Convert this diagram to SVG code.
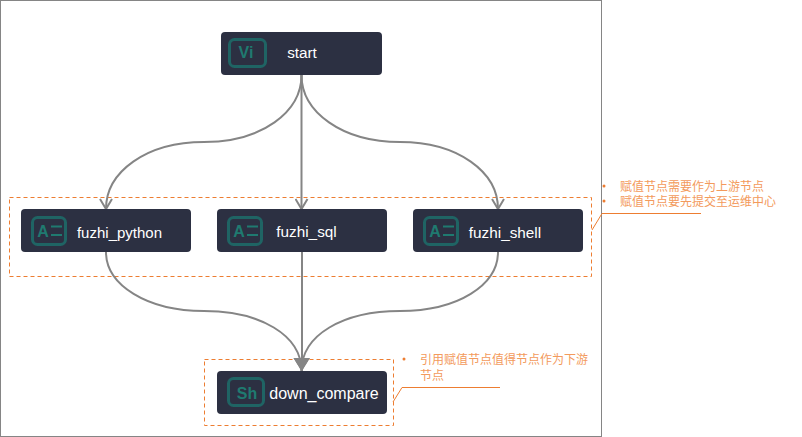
<svg xmlns="http://www.w3.org/2000/svg" width="802" height="437" viewBox="0 0 802 437">
<style>
.node{fill:#2c3042}
.badge{fill:none;stroke:#1f6464;stroke-width:3}
.ico{font:bold 16px "Liberation Sans",Arial,sans-serif;fill:#1f7a70;text-anchor:middle}
.lbl{font:15.300px "Liberation Sans",Arial,sans-serif;fill:#fff;text-anchor:middle}
.edge{fill:none;stroke:#858585;stroke-width:2}
.dash{fill:none;stroke:#ed7d31;stroke-width:1;stroke-dasharray:4 3}
.lead{fill:none;stroke:#ed7d31;stroke-width:1}
.note{font:12px "Noto Sans CJK SC","Liberation Sans",sans-serif;fill:#f39a5c}
.dot{fill:#ed7d31}
</style>
<defs>
<marker id="open" markerUnits="userSpaceOnUse" markerWidth="14" markerHeight="14" refX="11" refY="7" orient="auto">
<path d="M1,1 L11,7 L1,13" fill="none" stroke="#858585" stroke-width="2"/>
</marker>
<marker id="solid" markerUnits="userSpaceOnUse" markerWidth="16" markerHeight="18" refX="13" refY="8" orient="auto">
<path d="M0,0 L13,8 L0,16 Z" fill="#858585"/>
</marker>
</defs>
<rect x="0.5" y="0.5" width="601" height="436" fill="#fff" stroke="#858585"/>
<g id="frames">
<rect class="dash" x="9.500" y="197.500" width="582" height="79"/>
<rect class="dash" x="204.500" y="359.500" width="189" height="66"/>
<path class="lead" d="M592,230 L602,213.500 H701"/>
<path class="lead" d="M393,402 L402,387.500 H500"/>
</g>
<g id="connectors">
<path class="edge" marker-end="url(#open)" d="M301.500,75 C301.500,112 262,142 204,142 C146,142 106,172 106,209"/>
<path class="edge" marker-end="url(#open)" d="M301.500,75 V209"/>
<path class="edge" marker-end="url(#open)" d="M301.500,75 C301.500,112 342,142 400,142 C458,142 498,172 498,209"/>
<path class="edge" marker-end="url(#solid)" d="M106,252 C106,285 147,311 204,311 C260,311 301.500,335 301.500,371"/>
<path class="edge" marker-end="url(#solid)" d="M302,252 V371"/>
<path class="edge" marker-end="url(#solid)" d="M498,252 C498,285 458,311 400,311 C343,311 301.500,335 301.500,371"/>
</g>
<g id="node-start">
<rect class="node" x="221" y="32" width="161" height="43" rx="4"/>
<rect class="badge" x="229.500" y="39.500" width="36" height="27" rx="5"/>
<text class="ico" x="246" y="57.500">Vi</text>
<text class="lbl" x="302" y="58">start</text>
</g>
<g id="node-fuzhi_python">
<rect class="node" x="21" y="209" width="170" height="43" rx="4"/>
<rect class="badge" x="32.500" y="217.500" width="33" height="27" rx="5"/>
<text class="ico" x="43" y="237">A</text>
<path d="M51,226.500 H62 M51,235 H62" stroke="#1f7a70" stroke-width="2" fill="none"/>
<text class="lbl" x="119.500" y="238" style="font-size:15px">fuzhi_python</text>
</g>
<g id="node-fuzhi_sql">
<rect class="node" x="217" y="209" width="170" height="43" rx="4"/>
<rect class="badge" x="228.500" y="217.500" width="33" height="27" rx="5"/>
<text class="ico" x="239" y="237">A</text>
<path d="M247,226.500 H258 M247,235 H258" stroke="#1f7a70" stroke-width="2" fill="none"/>
<text class="lbl" x="306.500" y="237">fuzhi_sql</text>
</g>
<g id="node-fuzhi_shell">
<rect class="node" x="413" y="209" width="170" height="43" rx="4"/>
<rect class="badge" x="424.500" y="217.500" width="33" height="27" rx="5"/>
<text class="ico" x="435" y="237">A</text>
<path d="M443,226.500 H454 M443,235 H454" stroke="#1f7a70" stroke-width="2" fill="none"/>
<text class="lbl" x="505" y="238">fuzhi_shell</text>
</g>
<g id="node-down_compare">
<rect class="node" x="217" y="371" width="170" height="43" rx="4"/>
<rect class="badge" x="228.500" y="378.500" width="35" height="27" rx="5"/>
<text class="ico" x="247" y="399">Sh</text>
<text class="lbl" x="324" y="399" style="font-size:16px">down_compare</text>
</g>
<g id="notes">
<circle class="dot" cx="604" cy="186" r="1.500"/>
<circle class="dot" cx="604" cy="201" r="1.500"/>
<text class="note"><tspan x="620" y="191">赋值节点需要作为上游节点</tspan><tspan x="620" y="206">赋值节点要先提交至运维中心</tspan></text>
<circle class="dot" cx="404" cy="359" r="1.500"/>
<text class="note"><tspan x="420" y="364">引用赋值节点值得节点作为下游</tspan><tspan x="420" y="380">节点</tspan></text>
</g>
</svg>
